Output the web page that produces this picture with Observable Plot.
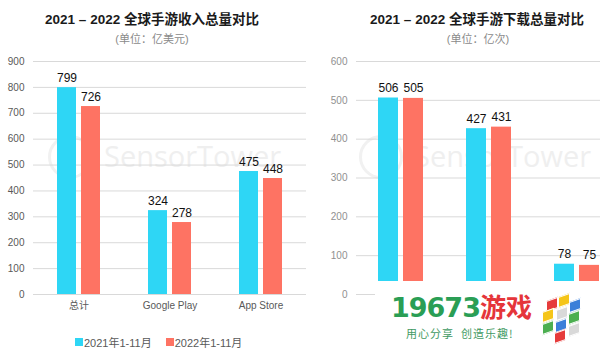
<!DOCTYPE html>
<html><head><meta charset="utf-8">
<script src="https://cdn.jsdelivr.net/npm/d3@7"></script>
<script src="https://cdn.jsdelivr.net/npm/@observablehq/plot@0.6"></script>
<style>
body{margin:0;background:#fff;font-family:"Liberation Sans",Arial,"Noto Sans CJK SC",sans-serif;}
#wrap{position:relative;width:600px;height:355px;overflow:hidden;background:#fff;}
.abs{position:absolute;}
.title{font-size:13.5px;font-weight:bold;color:#1a1a1a;white-space:nowrap;transform:translateX(-50%);}
.sub{font-size:11px;color:#8a8a8a;white-space:nowrap;transform:translateX(-50%);}
.wm{font-family:"Open Sans",sans-serif;font-size:29px;color:#efefef;white-space:nowrap;line-height:30px;}
.wmc{width:38px;height:38px;border:3px solid #f1f1f1;border-radius:50%;}
.leg{font-size:11px;color:#595959;display:flex;align-items:center;white-space:nowrap;}
.sw{display:inline-block;width:8px;height:8px;margin-right:1px;}
svg{max-width:none !important;}
</style></head>
<body><div id="wrap"></div>
<script>
const categories = ["总计", "Google Play", "App Store"];
const series = ["2021年1-11月", "2022年1-11月"];
const colors = ["#2ed6f5", "#fe7363"];
const revenue2021 = [799, 324, 475];
const revenue2022 = [726, 278, 448];
const downloads2021 = [506, 427, 78];
const downloads2022 = [505, 431, 75];
const revTicks = [0, 100, 200, 300, 400, 500, 600, 700, 800, 900];
const dlTicks = [0, 100, 200, 300, 400, 500, 600];
const titles = ["2021 – 2022 全球手游收入总量对比", "2021 – 2022 全球手游下载总量对比"];
const subtitles = ["(单位：亿美元)", "(单位：亿次)"];
const watermark = "SensorTower";

const wrap = document.getElementById("wrap");
function add(html, cls, style){const d=document.createElement("div");d.className="abs "+cls;d.style.cssText=style;d.innerHTML=html;wrap.appendChild(d);return d;}

// faint watermarks behind the charts
add("","wmc","left:48px;top:135px;");
add(watermark,"wm","left:104px;top:141px;");
add("","wmc","left:359px;top:135px;");
add(watermark,"wm","left:414px;top:141px;");

function rowsOf(a,b){const r=[];categories.forEach((c,i)=>{r.push({cat:c,s:series[0],v:a[i]});r.push({cat:c,s:series[1],v:b[i]});});return r;}

function chart(rows, ticks, max, width, ml, outer, tickColor, showX){
  return Plot.plot({
    width, height:270, marginTop:11, marginBottom:26, marginLeft:ml, marginRight:0,
    style:{fontSize:"10px", color:tickColor, background:"transparent", maxWidth:"none", fontFamily:'"Liberation Sans",Arial,"Noto Sans CJK SC",sans-serif'},
    facet:{data:rows, x:"cat"},
    fx:{domain:categories, padding:0, axis:showX ? "bottom" : null, tickSize:0, tickPadding:7, label:null},
    x:{domain:series, paddingInner:0.2, paddingOuter:outer, axis:null},
    y:{domain:[0,max], ticks, tickSize:0, tickPadding:9, label:null},
    color:{domain:series, range:colors},
    marks:[
      Plot.ruleY(ticks,{stroke:"#d9d9d9"}),
      Plot.barY(rows,{x:"s", y:"v", fill:"s"}),
      Plot.text(rows,{x:"s", y:"v", text:d=>String(d.v), lineAnchor:"bottom", dy:-6, fontSize:12, fill:"#111"})
    ]
  });
}

const left = chart(rowsOf(revenue2021,revenue2022), revTicks, 900, 306, 32, 0.926, "#595959", true);
const lc = add("","","left:0;top:50px;width:306px;height:270px;");
lc.appendChild(left);

const right = chart(rowsOf(downloads2021,downloads2022), dlTicks, 600, 320, 56, 0.86, "#909090", false);
const rc = add("","","left:300px;top:50px;width:300px;height:270px;overflow:hidden;");
rc.appendChild(right);

// titles
add(titles[0],"title","left:152px;top:8px;");
add(subtitles[0],"sub","left:152px;top:30px;");
add(titles[1],"title","left:477px;top:8px;");
add(subtitles[1],"sub","left:478px;top:30px;");

// legend
const leg = add("","leg","left:75px;top:334px;");
series.forEach((s,i)=>{const sp=document.createElement("span");sp.style.cssText="display:inline-flex;align-items:center;margin-right:"+(i===0?"14px":"0");sp.innerHTML='<span class="sw" style="background:'+colors[i]+'"></span>'+s;leg.appendChild(sp);});

// site logo overlay (bottom right)
const logo = add("","","left:375px;top:281px;width:225px;height:74px;background:#fff;");
logo.innerHTML = '<div style="position:absolute;left:16px;top:11px;font:bold 27px \'DejaVu Sans\',sans-serif;letter-spacing:-1px;color:#2a9e55;white-space:nowrap;line-height:28px;">19673<span style="color:#e5353a;font-family:\'Noto Sans CJK SC\';font-size:26px;letter-spacing:0">游戏</span></div>'+
 '<div style="position:absolute;left:31px;top:44px;font:11px \'Noto Sans CJK SC\',sans-serif;color:#3f9a63;white-space:nowrap;letter-spacing:1px;">用心分享 &nbsp;创造乐趣!</div>';
const cube = document.createElement("div");
cube.style.cssText="position:absolute;left:165px;top:14px;width:40px;height:42px;";
const cells=[["#e63b3b",6,4],["#f5c518",18,0],["#3b7fd9",29,5],["#f5c518",2,15],["#d9d9d9",16,13],["#4caf50",28,17],["#4caf50",2,27],["#3b7fd9",15,25],["#d9d9d9",28,29],["#e63b3b",14,36]];
cells.forEach(([c,x,y])=>{const q=document.createElement("div");q.style.cssText="position:absolute;left:"+x+"px;top:"+y+"px;width:10px;height:9px;background:"+c+";transform:skewY(-20deg);border:1px solid #fff;";cube.appendChild(q);});
logo.appendChild(cube);
</script></body></html>
